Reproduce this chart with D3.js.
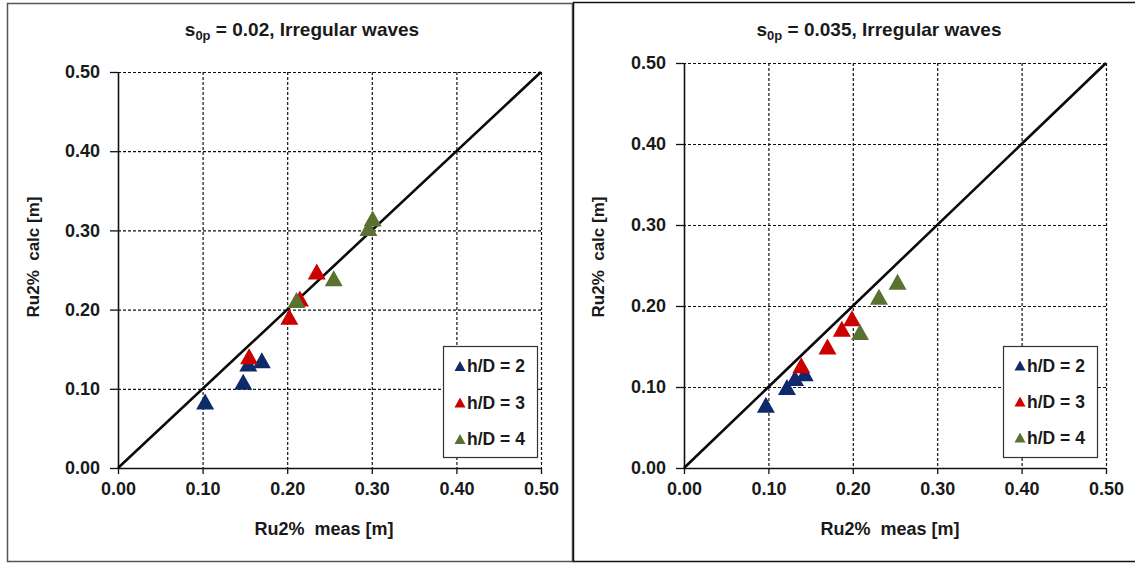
<!DOCTYPE html>
<html>
<head>
<meta charset="utf-8">
<script src="https://cdn.jsdelivr.net/npm/d3@7"></script>
<style>
  html, body { margin: 0; padding: 0; background: #fff; }
  svg { display: block; }
  text { font-family: "Liberation Sans", Arial, sans-serif; font-weight: bold; fill: #1a1a1a; }
</style>
</head>
<body>
<svg id="chart" width="1135" height="563"></svg>
<script>
// Axis ticks shared by both panels
const ticks = [0, 0.1, 0.2, 0.3, 0.4, 0.5];
const legendLabels = ["h/D = 2", "h/D = 3", "h/D = 4"];
const steepness = ["0.02", "0.035"];
const seriesColors = ["#0f2a6b", "#cc0000", "#5a7231"];

// s0p = 0.02 — measured vs calculated run-up
const a_hd2_meas = [0.103, 0.148, 0.154, 0.170];
const a_hd2_calc = [0.084, 0.109, 0.132, 0.136];
const a_hd3_meas = [0.155, 0.2025, 0.215, 0.235];
const a_hd3_calc = [0.141, 0.191, 0.214, 0.248];
const a_hd4_meas = [0.211, 0.255, 0.296, 0.301];
const a_hd4_calc = [0.212, 0.2395, 0.303, 0.315];

// s0p = 0.035 — measured vs calculated run-up
const b_hd2_meas = [0.097, 0.122, 0.1315, 0.143];
const b_hd2_calc = [0.078, 0.100, 0.111, 0.117];
const b_hd3_meas = [0.139, 0.170, 0.187, 0.199];
const b_hd3_calc = [0.127, 0.150, 0.172, 0.185];
const b_hd4_meas = [0.2085, 0.231, 0.253];
const b_hd4_calc = [0.168, 0.2115, 0.230];

const zip = (xs, ys) => xs.map((x, i) => ({ x, y: ys[i] }));

const panels = [
  {
    steep: steepness[0],
    frame: { x: 7, y: 3, w: 565, h: 558, stroke: "#555" },
    plot: { x0: 118, x1: 541, y0: 468, y1: 72 },
    titleX: 302, xTitle: { x: 324, y: 535 }, yTitle: { x: 39, y: 257 },
    legend: { x: 443, y: 346, w: 94, h: 111, rows: [366, 402.5, 439], mx: 460, tx: 467 },
    series: [zip(a_hd2_meas, a_hd2_calc), zip(a_hd3_meas, a_hd3_calc), zip(a_hd4_meas, a_hd4_calc)]
  },
  {
    steep: steepness[1],
    frame: { x: 573, y: 2, w: 575, h: 559, stroke: "#111" },
    plot: { x0: 684, x1: 1106, y0: 468, y1: 63 },
    titleX: 879, xTitle: { x: 890, y: 535 }, yTitle: { x: 604, y: 257 },
    legend: { x: 1003, y: 346, w: 94, h: 111, rows: [365.5, 401.5, 437.5], mx: 1020, tx: 1027 },
    series: [zip(b_hd2_meas, b_hd2_calc), zip(b_hd3_meas, b_hd3_calc), zip(b_hd4_meas, b_hd4_calc)]
  }
];

const svg = d3.select("#chart");
const fmt = d3.format(".2f");

// Upward triangle centred on its bounding box
function tri(w, h) {
  return `M0,${-h / 2}L${w / 2},${h / 2}L${-w / 2},${h / 2}Z`;
}

panels.forEach(p => {
  const g = svg.append("g");

  g.append("rect")
    .attr("x", p.frame.x + 0.5).attr("y", p.frame.y + 0.5)
    .attr("width", p.frame.w).attr("height", p.frame.h)
    .attr("fill", "#fff").attr("stroke", p.frame.stroke).attr("stroke-width", 1.5);

  const x = d3.scaleLinear().domain([0, 0.5]).range([p.plot.x0, p.plot.x1]);
  const y = d3.scaleLinear().domain([0, 0.5]).range([p.plot.y0, p.plot.y1]);
  const pw = p.plot.x1 - p.plot.x0, ph = p.plot.y0 - p.plot.y1;

  // Dashed grid
  const gx = g.append("g").attr("transform", `translate(0,${p.plot.y1})`)
    .call(d3.axisTop(x).tickValues(ticks.slice(1)).tickSize(-ph).tickFormat(""));
  const gy = g.append("g").attr("transform", `translate(${p.plot.x1},0)`)
    .call(d3.axisRight(y).tickValues(ticks.slice(1)).tickSize(-pw).tickFormat(""));
  [gx, gy].forEach(a => {
    a.select(".domain").remove();
    a.selectAll("line").attr("stroke", "#111").attr("stroke-width", 1.2).attr("stroke-dasharray", "3,2");
  });

  // Solid axes with outward ticks
  const ax = g.append("g").attr("transform", `translate(0,${p.plot.y0})`)
    .call(d3.axisBottom(x).tickValues(ticks).tickSize(6).tickSizeOuter(0).tickPadding(8).tickFormat(fmt));
  const ay = g.append("g").attr("transform", `translate(${p.plot.x0},0)`)
    .call(d3.axisLeft(y).tickValues(ticks).tickSize(8).tickSizeOuter(0).tickPadding(10).tickFormat(fmt));
  [ax, ay].forEach(a => {
    a.select(".domain").attr("stroke", "#111").attr("stroke-width", 1.6);
    a.selectAll("line").attr("stroke", "#111").attr("stroke-width", 1.3);
    a.selectAll("text").style("font-size", "18px").attr("fill", "#1a1a1a");
  });

  // 1:1 line
  g.append("line")
    .attr("x1", x(0)).attr("y1", y(0)).attr("x2", x(0.5)).attr("y2", y(0.5))
    .attr("stroke", "#0a0a0a").attr("stroke-width", 2.6);

  // Markers
  p.series.forEach((pts, si) => {
    g.append("g").selectAll("path").data(pts).join("path")
      .attr("d", tri(18, 16))
      .attr("transform", d => `translate(${x(d.x)},${y(d.y)})`)
      .attr("fill", seriesColors[si]);
  });

  // Title with subscript
  const t = g.append("text").attr("x", p.titleX).attr("y", 36)
    .attr("text-anchor", "middle").style("font-size", "19px");
  t.append("tspan").text("s");
  t.append("tspan").attr("dy", 4).style("font-size", "13px").text("0p");
  t.append("tspan").attr("dy", -4).text(` = ${p.steep}, Irregular waves`);

  g.append("text").attr("x", p.xTitle.x).attr("y", p.xTitle.y)
    .attr("text-anchor", "middle").style("font-size", "18px").attr("xml:space", "preserve")
    .text("Ru2%  meas [m]");
  g.append("text")
    .attr("transform", `translate(${p.yTitle.x},${p.yTitle.y}) rotate(-90)`)
    .attr("text-anchor", "middle").style("font-size", "17px").attr("xml:space", "preserve")
    .text("Ru2%  calc [m]");

  // Legend
  const L = p.legend;
  g.append("rect").attr("x", L.x + 0.5).attr("y", L.y + 0.5).attr("width", L.w).attr("height", L.h)
    .attr("fill", "#fff").attr("stroke", "#333").attr("stroke-width", 1.2);
  legendLabels.forEach((lab, i) => {
    g.append("path").attr("d", tri(11, 10))
      .attr("transform", `translate(${L.mx},${L.rows[i]})`).attr("fill", seriesColors[i]);
    g.append("text").attr("x", L.tx).attr("y", L.rows[i] + 6)
      .style("font-size", "17.5px").text(lab);
  });
});
</script>
</body>
</html>
